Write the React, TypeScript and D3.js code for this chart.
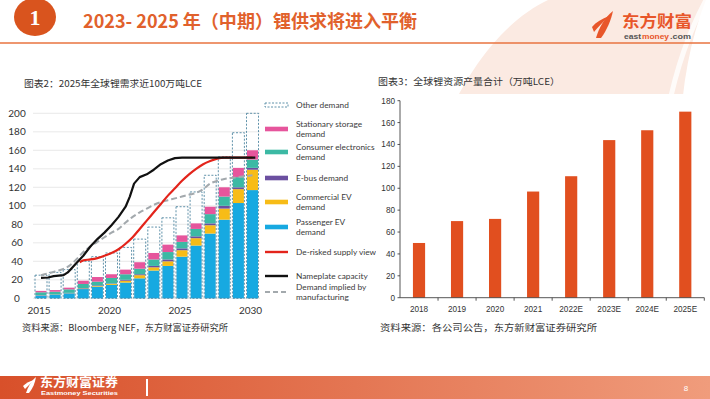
import React from 'react'
import * as d3 from 'd3'

// 图表2: global lithium demand (kt LCE x 10), stacked by segment
const years = [2015, 2016, 2017, 2018, 2019, 2020, 2021, 2022, 2023, 2024, 2025, 2026, 2027, 2028, 2029, 2030]
const passengerEV = [3, 3.6, 5.4, 10, 12.6, 14.5, 17, 21.6, 30, 35, 45, 57, 70, 85, 103, 117]
const commercialEV = [0.2, 0.2, 0.2, 0.5, 0.7, 1, 2, 3.4, 3.5, 5, 7, 8, 9, 12, 15, 22]
const eBus = [0.3, 0.3, 0.3, 0.5, 0.7, 0.5, 1, 1, 1.5, 2, 2, 2, 2, 3, 2, 2]
const consumerElectronics = [3, 3, 3.8, 4.5, 4, 6, 6, 6, 7, 8, 7, 8, 10, 10, 11, 9]
const stationaryStorage = [1.5, 1.8, 1.8, 3.5, 5, 4, 5, 7, 7, 8, 7, 6, 8, 10, 10, 10]
const otherDemand = [17, 19.1, 19.5, 21, 22, 23, 24, 25, 28, 29, 31, 34, 34, 33, 38, 40]

const nameplateCapacity: [number, number][] = [
  [2015, 22], [2015.5, 22.5], [2015.9, 24], [2016.6, 25], [2016.9, 28], [2017.5, 38], [2018, 46],
  [2018.5, 56], [2019, 64], [2019.5, 71], [2020, 79], [2020.5, 88], [2021, 99], [2021.3, 110],
  [2021.6, 124], [2022, 131], [2022.5, 134], [2023, 139], [2023.5, 145], [2024, 149], [2024.5, 151.5],
  [2025, 152], [2030.2, 152]
]
const deRiskedSupply: [number, number][] = [
  [2017.75, 39], [2018, 41], [2018.5, 42], [2019, 43.5], [2019.5, 46], [2020, 49], [2020.5, 53],
  [2021, 59], [2021.5, 66], [2022, 75], [2022.5, 84], [2023, 93], [2023.5, 102], [2024, 111],
  [2024.5, 119], [2025, 127], [2025.5, 134], [2026, 140], [2026.5, 145], [2027, 148.5],
  [2027.5, 151], [2028, 152], [2030, 152]
]
const impliedDemand: [number, number][] = [
  [2015, 25], [2016, 29], [2017, 35], [2017.5, 42], [2018, 50], [2018.5, 56], [2019, 61],
  [2019.5, 66], [2020, 71], [2020.5, 75], [2021, 82], [2021.5, 88], [2022, 93], [2022.5, 97],
  [2023, 101], [2023.5, 104], [2024, 106], [2024.5, 108], [2025, 110], [2025.5, 112], [2026, 114],
  [2026.5, 118], [2027, 124], [2027.5, 127], [2028, 129], [2029, 131], [2030, 133]
]
const demandYearTicks = [2015, 2020, 2025, 2030]

// 图表3: global lithium resource output (万吨LCE)
const resourceYears = ['2018', '2019', '2020', '2021', '2022E', '2023E', '2024E', '2025E']
const resourceOutput = [50, 70, 72, 97, 111, 144, 153, 170]

const CN = '"Noto Sans CJK SC", sans-serif'
const SANS = 'Lato, "Liberation Sans", sans-serif'
const ARIAL = '"Liberation Sans", sans-serif'
const ORANGE = '#E1612C'

const segColors: Record<string, string> = {
  passenger: '#17A9E1',
  commercial: '#F7BC17',
  ebus: '#6B4FA0',
  consumer: '#3CB9A4',
  stationary: '#E6559C'
}

const legend = [
  { kind: 'other', y: 105, lines: ['Other demand'] },
  { kind: 'stationary', y: 129, lines: ['Stationary storage', 'demand'] },
  { kind: 'consumer', y: 152, lines: ['Consumer electronics', 'demand'] },
  { kind: 'ebus', y: 178, lines: ['E-bus demand'] },
  { kind: 'commercial', y: 202, lines: ['Commercial EV', 'demand'] },
  { kind: 'passenger', y: 227, lines: ['Passenger EV', 'demand'] },
  { kind: 'red', y: 252, lines: ['De-risked supply view'] },
  { kind: 'black', y: 276, lines: ['Nameplate capacity'] },
  { kind: 'grey', y: 292, lines: ['Demand implied by', 'manufacturing'] }
]

function DemandChart() {
  const xL = d3.scaleLinear().domain([2015, 2030]).range([41, 252.5])
  const yL = d3.scaleLinear().domain([0, 200]).range([298.3, 113.3])
  const barW = 11
  const keys = ['passenger', 'commercial', 'ebus', 'consumer', 'stationary']
  const rows = years.map((yr, i) => ({
    year: yr,
    passenger: passengerEV[i],
    commercial: commercialEV[i],
    ebus: eBus[i],
    consumer: consumerElectronics[i],
    stationary: stationaryStorage[i],
    other: otherDemand[i]
  }))
  const stacked = d3.stack<any>().keys([...keys, 'other'])(rows)
  const smooth = d3.line<[number, number]>().x(d => xL(d[0])).y(d => yL(d[1])).curve(d3.curveMonotoneX)
  const straight = d3.line<[number, number]>().x(d => xL(d[0])).y(d => yL(d[1]))

  return (
    <g>
      <text x={24} y={87} fontFamily={CN} fontSize={9.5} fill="#333" textLength={178} lengthAdjust="spacingAndGlyphs">
        图表2：2025年全球锂需求近100万吨LCE
      </text>
      {yL.ticks(10).map(t => (
        <g key={t}>
          <line x1={33} x2={260} y1={yL(t)} y2={yL(t)} stroke="#e3e3e3" strokeWidth={0.8} />
          <text x={17} y={yL(t) + 3.5} textAnchor="middle" fontFamily={SANS} fontSize={10} fill="#333">{t}</text>
        </g>
      ))}
      {demandYearTicks.map(t => (
        <text key={t} x={xL(t) - 2} y={314} textAnchor="middle" fontFamily={SANS} fontSize={10} fill="#333">{t}</text>
      ))}
      {stacked.filter(s => s.key !== 'other').map(s => (
        <g key={s.key} fill={segColors[s.key]}>
          {s.map((d, i) => (
            <rect key={i} x={xL(years[i]) - barW / 2} width={barW} y={yL(d[1])} height={yL(d[0]) - yL(d[1])} />
          ))}
        </g>
      ))}
      {stacked.filter(s => s.key === 'other').map(s => (
        <g key={s.key} fill="none" stroke="#4E86A0" strokeWidth={0.9} strokeDasharray="2,1.6">
          {s.map((d, i) => (
            <rect key={i} x={xL(years[i]) - barW / 2 - 0.5} width={barW + 1} y={yL(d[1])} height={yL(0) - yL(d[1])} />
          ))}
        </g>
      ))}
      <path d={smooth(impliedDemand) || ''} fill="none" stroke="#A3A9AD" strokeWidth={2} strokeDasharray="6,3" />
      <path d={smooth(deRiskedSupply) || ''} fill="none" stroke="#E3241B" strokeWidth={2.2} />
      <path d={straight(nameplateCapacity) || ''} fill="none" stroke="#111" strokeWidth={2.2} strokeLinejoin="round" />

      {legend.map(item => {
        let sym
        if (item.kind === 'other') {
          sym = <rect x={265} y={item.y - 2} width={23} height={4} fill="none" stroke="#4E86A0" strokeWidth={0.9} strokeDasharray="2,1.5" />
        } else if (item.kind === 'red' || item.kind === 'black') {
          sym = <line x1={265} x2={288} y1={item.y} y2={item.y} stroke={item.kind === 'red' ? '#E3241B' : '#111'} strokeWidth={2.4} />
        } else if (item.kind === 'grey') {
          sym = <line x1={265} x2={288} y1={item.y} y2={item.y} stroke="#A3A9AD" strokeWidth={2} strokeDasharray="5,3" />
        } else {
          sym = <rect x={265} y={item.y - 2.3} width={23} height={4.6} fill={segColors[item.kind]} />
        }
        const top = item.y - (item.lines.length - 1) * 5
        return (
          <g key={item.kind}>
            {sym}
            {item.lines.map((l, j) => (
              <text key={j} x={296} y={top + j * 10 + 3} fontFamily={SANS} fontSize={8.3} fill="#3a3a3a">{l}</text>
            ))}
          </g>
        )
      })}
    </g>
  )
}

function ResourceChart() {
  const x = d3.scaleBand().domain(resourceYears).range([400, 704.3]).paddingInner(0.68).paddingOuter(0.34)
  const y = d3.scaleLinear().domain([0, 180]).range([297.7, 100.7])
  const step = x.step()
  return (
    <g>
      <rect x={376} y={94} width={332} height={226} fill="#fff" />
      <text x={378} y={85} fontFamily={CN} fontSize={9.5} fill="#333" textLength={182} lengthAdjust="spacingAndGlyphs">
        图表3：全球锂资源产量合计（万吨LCE）
      </text>
      {resourceYears.map((c, i) => (
        <rect key={c} x={x(c)} width={x.bandwidth()} y={y(resourceOutput[i])} height={y(0) - y(resourceOutput[i])} fill="#E14F1F" />
      ))}
      <line x1={400} x2={400} y1={y(180)} y2={y(0)} stroke="#444" strokeWidth={0.9} />
      <line x1={400} x2={704.3} y1={y(0)} y2={y(0)} stroke="#444" strokeWidth={0.9} />
      {y.ticks(9).map(t => (
        <g key={t}>
          <line x1={397.5} x2={400} y1={y(t)} y2={y(t)} stroke="#444" strokeWidth={0.9} />
          <text x={395} y={y(t) + 3} textAnchor="end" fontFamily={ARIAL} fontSize={8.2} fill="#333">{t}</text>
        </g>
      ))}
      {resourceYears.map(c => (
        <g key={c}>
          <line x1={(x(c) || 0) + x.bandwidth() / 2 + step / 2} x2={(x(c) || 0) + x.bandwidth() / 2 + step / 2} y1={y(0)} y2={y(0) + 3} stroke="#444" strokeWidth={0.9} />
          <text x={(x(c) || 0) + x.bandwidth() / 2} y={311.5} textAnchor="middle" fontFamily={ARIAL} fontSize={8.2} fill="#333">{c}</text>
        </g>
      ))}
    </g>
  )
}

export default function App() {
  return (
    <svg width={710} height={399} viewBox="0 0 710 399" style={{ position: 'absolute', left: 0, top: 0, background: '#fff' }}>
      <defs>
        <linearGradient id="foot" x1="0" x2="1" y1="0" y2="0">
          <stop offset="0" stopColor="#D8502A" />
          <stop offset="1" stopColor="#F09C7C" />
        </linearGradient>
      </defs>
      {/* background swoosh */}
      <path d="M440,135 C470,60 510,18 548,0 L706,0 C690,40 682,85 680,135 Z" fill="#FBEAE2" />
      <path d="M706,0 C690,30 676,70 668,110" fill="none" stroke="#fff" strokeWidth={5} opacity={0.8} />

      {/* header */}
      <ellipse cx={35} cy={17} rx={21} ry={19} fill="#D9541E" />
      <text x={35} y={25} textAnchor="middle" fontFamily='"Liberation Serif", serif' fontWeight="bold" fontSize={22} fill="#fff">1</text>
      <text x={83} y={28} fontFamily={CN} fontWeight="bold" fontSize={18} fill={ORANGE} textLength={334} lengthAdjust="spacingAndGlyphs">
        2023- 2025 年（中期）锂供求将进入平衡
      </text>
      <line x1={0} x2={710} y1={43} y2={43} stroke="#E8733F" strokeWidth={1.4} />
      <g fill="#E8562A">
        <path d="M596,38 C599,28 604,18 613,11 C611,20 607,30 601,38 Z" />
        <path d="M592,27 C596,22 602,19 609,16 C603,22 598,27 594,32 Z" />
      </g>
      <text x={622} y={27} fontFamily={CN} fontWeight="bold" fontSize={16} fill="#E8562A" textLength={70} lengthAdjust="spacingAndGlyphs">东方财富</text>
      <text x={624} y={39} fontFamily={ARIAL} fontWeight="bold" fontSize={6.8} fill="#555" textLength={17} lengthAdjust="spacingAndGlyphs">east</text>
      <text x={642} y={39} fontFamily={ARIAL} fontWeight="bold" fontSize={6.8} fill="#E8562A" textLength={27} lengthAdjust="spacingAndGlyphs">money</text>
      <text x={670} y={39} fontFamily={ARIAL} fontWeight="bold" fontSize={6.8} fill="#555" textLength={21} lengthAdjust="spacingAndGlyphs">.com</text>

      <DemandChart />
      <ResourceChart />

      {/* sources */}
      <text x={22} y={331} fontFamily={CN} fontSize={9} fill="#333" textLength={206} lengthAdjust="spacingAndGlyphs">资料来源：Bloomberg NEF，东方财富证券研究所</text>
      <text x={380} y={331} fontFamily={CN} fontSize={9} fill="#333" textLength={217} lengthAdjust="spacingAndGlyphs">资料来源：各公司公告，东方新财富证券研究所</text>

      {/* footer */}
      <rect x={0} y={376} width={710} height={23} fill="url(#foot)" />
      <g fill="#fff">
        <path d="M26,393 C28,387 31,381 36,377 C35,383 33,388 29,393 Z" />
        <path d="M23,386 C26,383 30,381 34,380 C31,383 28,386 25,389 Z" />
      </g>
      <text x={40} y={387} fontFamily={CN} fontWeight="bold" fontSize={12} fill="#fff" textLength={78} lengthAdjust="spacingAndGlyphs">东方财富证券</text>
      <text x={41} y={395} fontFamily={ARIAL} fontWeight="bold" fontSize={6} fill="#fff" textLength={77} lengthAdjust="spacingAndGlyphs">Eastmoney Securities</text>
      <rect x={146} y={379} width={2} height={17} fill="#fff" />
      <text x={686} y={391} textAnchor="middle" fontFamily={ARIAL} fontSize={8} fill="#fff">8</text>
    </svg>
  )
}
